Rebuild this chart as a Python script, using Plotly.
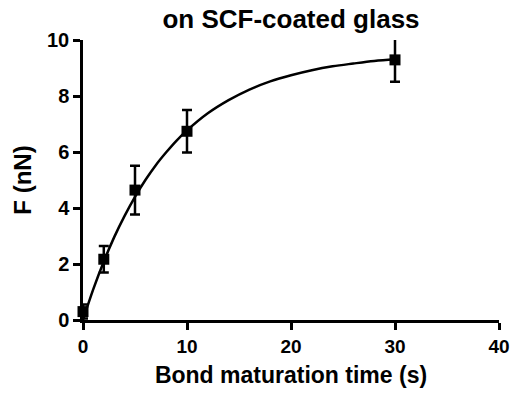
import plotly.graph_objects as go

# measured data
t_data = [0, 2, 5, 10, 30]
f_data = [0.3, 2.17, 4.64, 6.74, 9.29]
f_err = [0.25, 0.47, 0.87, 0.76, 0.78]

# fitted curve
t_curve = [0, 1, 2, 3, 4, 5, 6, 7, 8, 9, 10, 12, 14, 16, 18, 20, 22, 24, 26, 28, 30]
f_curve = [0, 1.11, 2.09, 2.96, 3.72, 4.40, 5.00, 5.53, 5.99, 6.41, 6.77, 7.38,
           7.85, 8.23, 8.52, 8.74, 8.92, 9.06, 9.16, 9.25, 9.31]

x_ticks = [0, 10, 20, 30, 40]
y_ticks = [0, 2, 4, 6, 8, 10]

FONT = "Arial, Liberation Sans, sans-serif"

fig = go.Figure()
fig.add_trace(go.Scatter(
    x=t_curve, y=f_curve, mode="lines", line=dict(color="black", width=2.5, shape="spline"),
    showlegend=False, hoverinfo="skip", cliponaxis=False))
fig.add_trace(go.Scatter(
    x=t_data, y=f_data, mode="markers",
    marker=dict(symbol="square", size=11, color="black"),
    error_y=dict(type="data", array=f_err, visible=True, color="black", thickness=2.5, width=5),
    showlegend=False, cliponaxis=False))

fig.update_layout(
    width=510, height=394,
    margin=dict(l=83, r=11, t=40, b=74, autoexpand=False),
    paper_bgcolor="white", plot_bgcolor="white",
    font=dict(family=FONT, color="black"),
    title=dict(text="<b>on SCF-coated glass</b>", x=(83 + 499) / 2 / 510, xanchor="center",
               y=1 - 19 / 394, yanchor="middle", font=dict(size=26, family=FONT, color="black")),
)
fig.update_xaxes(
    range=[0, 40], tickvals=x_ticks, ticktext=[f"<b>{v}</b>" for v in x_ticks],
    showgrid=False, zeroline=False, showline=True, linecolor="black", linewidth=2.5,
    ticks="outside", ticklen=7, tickwidth=2.5, tickcolor="black",
    tickfont=dict(size=19, family=FONT, color="black"),
    title=dict(text="<b>Bond maturation time (s)</b>", font=dict(size=23, family=FONT, color="black"), standoff=12),
)
fig.update_yaxes(
    range=[0, 10], tickvals=y_ticks, ticktext=[f"<b>{v}</b>" for v in y_ticks],
    showgrid=False, zeroline=False, showline=True, linecolor="black", linewidth=2.5,
    ticks="outside", ticklen=7, tickwidth=2.5, tickcolor="black",
    tickfont=dict(size=20, family=FONT, color="black"),
    title=dict(text="<b>F (nN)</b>", font=dict(size=24, family=FONT, color="black"), standoff=9),
)

fig.write_html("out.html")
